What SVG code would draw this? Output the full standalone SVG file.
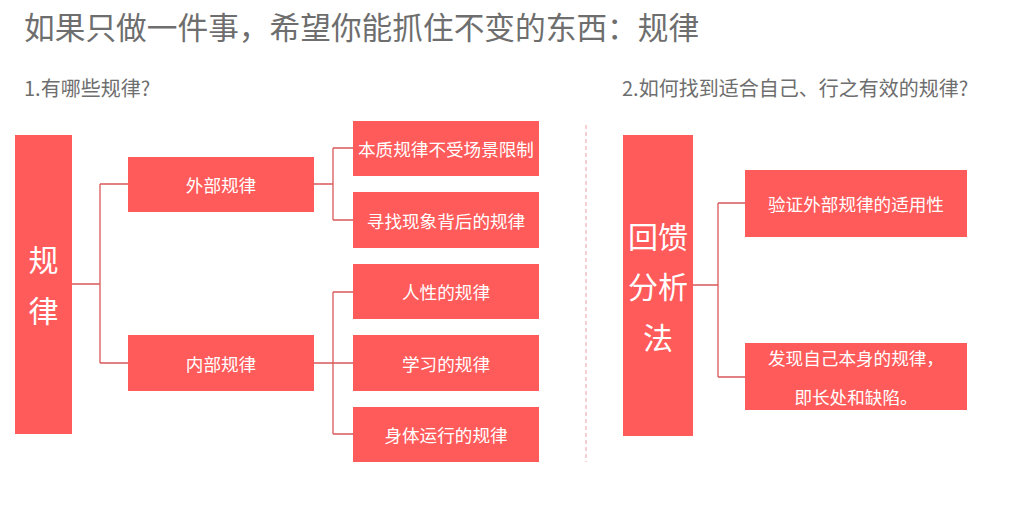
<svg xmlns="http://www.w3.org/2000/svg" width="1024" height="512" viewBox="0 0 1024 512">
<style>
.box{fill:#FF5B5B}
.t{font-family:"Noto Sans CJK SC","Liberation Sans",sans-serif;fill:#fff;text-anchor:middle;dominant-baseline:central}
.s{font-size:17.6px}
.b{font-size:30px}
.h{font-family:"Noto Sans CJK SC","Liberation Sans",sans-serif;fill:#6e6e6e}
.c{fill:none;stroke:#D9585A;stroke-width:1.3}
</style>
<rect width="1024" height="512" fill="#fff"/>
<text class="h" x="24" y="39" font-size="30.7">如果只做一件事，希望你能抓住不变的东西：规律</text>
<text class="h" x="24" y="96" font-size="20">1.有哪些规律?</text>
<text class="h" x="622" y="96" font-size="20">2.如何找到适合自己、行之有效的规律?</text>
<line x1="586" y1="125" x2="586" y2="462" stroke="#E8A0A4" stroke-width="1" stroke-dasharray="4,3"/>
<g id="connectors">
<path class="c" d="M72 284H100M100 184V363M100 184H128M100 363H128"/>
<path class="c" d="M314 184H333M333 148V220M333 148H353M333 220H353"/>
<path class="c" d="M314 363H353M333 292V434M333 292H353M333 434H353"/>
<path class="c" d="M693 285H718M718 203V377M718 203H745M718 377H745"/>
</g>
<g id="n-guilv"><rect class="box" x="15" y="135" width="57" height="299"/><text class="t b" x="43.5" y="258">规</text><text class="t b" x="43.5" y="309">律</text></g>
<g id="n-waibu"><rect class="box" x="128" y="157" width="186" height="55"/><text class="t s" x="221" y="184.5">外部规律</text></g>
<g id="n-neibu"><rect class="box" x="128" y="335" width="186" height="56"/><text class="t s" x="221" y="363">内部规律</text></g>
<g id="n-a1"><rect class="box" x="353" y="121" width="186" height="55"/><text class="t s" x="446" y="148.5">本质规律不受场景限制</text></g>
<g id="n-a2"><rect class="box" x="353" y="192" width="186" height="56"/><text class="t s" x="446" y="220">寻找现象背后的规律</text></g>
<g id="n-b1"><rect class="box" x="353" y="264" width="186" height="55"/><text class="t s" x="446" y="291.5">人性的规律</text></g>
<g id="n-b2"><rect class="box" x="353" y="335" width="186" height="56"/><text class="t s" x="446" y="363">学习的规律</text></g>
<g id="n-b3"><rect class="box" x="353" y="407" width="186" height="55"/><text class="t s" x="446" y="434.5">身体运行的规律</text></g>
<g id="n-huikui"><rect class="box" x="623" y="135" width="70" height="301"/><text class="t b" x="658" y="235">回馈</text><text class="t b" x="658" y="285">分析</text><text class="t b" x="658" y="336">法</text></g>
<g id="n-c1"><rect class="box" x="745" y="170" width="222" height="67"/><text class="t s" x="856" y="203">验证外部规律的适用性</text></g>
<g id="n-c2"><rect class="box" x="745" y="343" width="222" height="67"/><text class="t s" x="856" y="357">发现自己本身的规律，</text><text class="t s" x="856" y="396">即长处和缺陷。</text></g>
</svg>
